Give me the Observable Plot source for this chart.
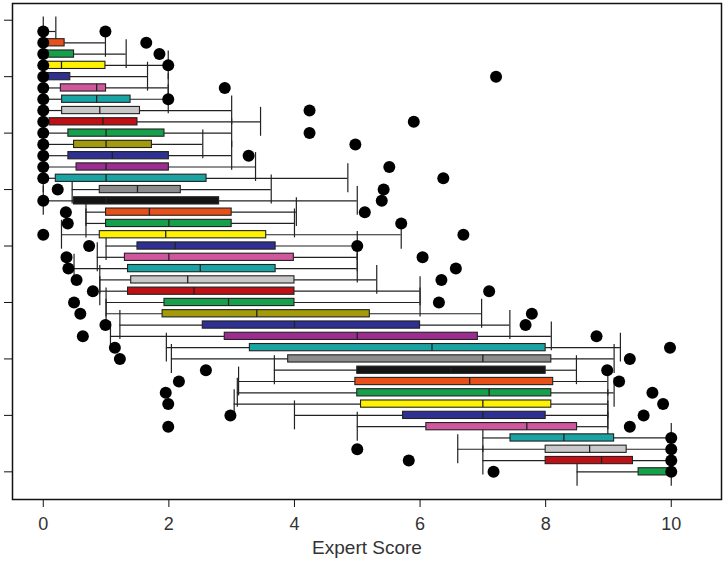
<!DOCTYPE html>
<html>
<head>
<meta charset="utf-8">
<script src="https://cdn.jsdelivr.net/npm/d3@7"></script>
<script src="https://cdn.jsdelivr.net/npm/@observablehq/plot@0.6"></script>
<style>
  html, body { margin: 0; padding: 0; background: #fff; }
  #chart svg { display: block; }
</style>
</head>
<body>
<div id="chart"></div>
<script>
// Row order: top (0) to bottom (39)
const lowerWhisker = [0,0,0,0,0,0,0,0,0,0, 0,0,0,0,0.46,0,0.68,0.68,0.29,1.0, 0.86,0.49,0.9,0.9,1.0,1.0,1.22,1.07,1.96,2.04, 3.68,3.11,3.09,3.04,4.0,5.0,7.0,6.6,7.0,8.5];
const q1 = [0,0,0,0,0,0.28,0.3,0.3,0.1,0.4, 0.49,0.4,0.53,0.2,0.9,0.49,1.0,1.0,0.9,1.5, 1.3,1.35,1.4,1.35,1.93,1.9,2.54,2.89,3.29,3.9, 5.0,4.97,5.0,5.06,5.73,6.1,7.44,8.0,8.0,9.48];
const median = [0,0,0,0.29,0,0.85,0.85,0.9,0.95,1.0, 1.0,1.1,1.0,1.0,1.5,1.0,1.69,2.0,1.95,2.1, 2.0,2.5,2.3,2.4,2.95,3.4,4.0,5.0,6.19,7.0, 6.49,6.79,7.1,7.0,7.0,7.7,8.29,8.7,8.89,10];
const q3 = [0,0.34,0.49,0.99,0.43,1.0,1.39,1.54,1.5,1.93, 1.73,2.0,2.0,2.6,2.19,2.8,3.0,3.0,3.55,3.7, 3.99,3.7,4.0,4.0,4.0,5.2,6.0,6.92,8.0,8.09, 8.0,8.12,8.09,8.09,8.0,8.5,9.09,9.29,9.39,10];
const upperWhisker = [0.2,0.99,1.32,1.99,1.66,1.99,1.99,3.0,3.46,3.0, 2.54,3.0,3.38,4.85,3.63,5.0,4.03,4.0,5.7,5.0, 5.0,5.0,5.31,6.0,6.0,6.98,7.43,8.09,9.19,9.09, 8.49,8.99,9.09,8.99,8.99,8.99,10,10,10,10];
const lowDot = [0,0,0,0,0,0,0,0,0,0, 0,0,0,0,0.23,0,0.36,0.39,0,0.73, 0.37,0.4,0.53,0.79,0.49,0.59,0.99,0.63,1.14,1.22, 2.59,2.16,1.95,1.99,2.98,1.99,null,5.0,5.82,7.17];
const highDot = [0.99,1.64,1.85,1.99,7.21,2.89,1.99,4.24,5.9,4.24, 4.97,3.27,5.51,6.37,5.42,5.39,5.12,5.7,6.69,5.0, 6.04,6.57,6.34,7.1,6.3,7.78,7.68,8.81,9.98,9.34, 8.98,9.17,9.7,9.87,9.56,9.34,10,10,10,10];
const palette = ["#141414","#e8501a","#17a04b","#fff200","#2e3192","#d0579e","#1aa3a3","#c8c8c8","#bf1016","#17a04b","#a39b0a","#2e3192","#9c2c8f","#1aa3a3","#8c8c8c"];
const xTicks = [0, 2, 4, 6, 8, 10];
const yTicks = [-1, 4, 9, 14, 19, 24, 29, 34, 39];
const xLabel = "Expert Score";

const rows = lowerWhisker.map((lo, i) => ({
  i, lo, q1: q1[i], med: median[i], q3: q3[i], hi: upperWhisker[i],
  color: palette[i % palette.length]
}));
const dots = [];
rows.forEach((r, i) => {
  if (lowDot[i] != null) dots.push({i, v: lowDot[i]});
  if (highDot[i] != null) dots.push({i, v: highDot[i]});
});

const boxHalf = 0.32;
const stapleHalf = 1.28;

const chart = Plot.plot({
  width: 724,
  height: 565,
  marginLeft: 12,
  marginRight: 3,
  marginTop: 3,
  marginBottom: 66,
  style: {fontFamily: "'Liberation Sans', Arial, Helvetica, sans-serif", color: "#333", background: "#fff"},
  x: {domain: [-0.49, 10.8]},
  y: {domain: [41.45, -2.48]},
  marks: [
    // whiskers
    Plot.ruleY(rows, {y: "i", x1: "lo", x2: "q1", stroke: "#222", strokeWidth: 1.2}),
    Plot.ruleY(rows, {y: "i", x1: "q3", x2: "hi", stroke: "#222", strokeWidth: 1.2}),
    // staples
    Plot.ruleX(rows, {x: "lo", y1: d => d.i - stapleHalf, y2: d => d.i + stapleHalf, stroke: "#222", strokeWidth: 1.2}),
    Plot.ruleX(rows, {x: "hi", y1: d => d.i - stapleHalf, y2: d => d.i + stapleHalf, stroke: "#222", strokeWidth: 1.2}),
    // boxes
    Plot.rect(rows, {x1: "q1", x2: "q3", y1: d => d.i - boxHalf, y2: d => d.i + boxHalf, fill: "color", stroke: "#222", strokeWidth: 1.1}),
    // medians
    Plot.ruleX(rows, {x: "med", y1: d => d.i - boxHalf, y2: d => d.i + boxHalf, stroke: "#222", strokeWidth: 1.3}),
    // points
    Plot.dot(dots, {x: "v", y: "i", r: 6, fill: "#000", stroke: "none"}),
    // frame & axes
    Plot.frame({stroke: "#111", strokeWidth: 1.5}),
    Plot.axisX({ticks: xTicks, tickSize: 8, tickPadding: 10, fontSize: 18, label: null, stroke: "#111", fill: "#333"}),
    Plot.axisY({ticks: yTicks, tickSize: 8, tickFormat: () => "", label: null, stroke: "#111"}),
    Plot.text([xLabel], {frameAnchor: "bottom", dy: 54, fontSize: 19, fill: "#333"})
  ]
});
document.getElementById("chart").appendChild(chart);
</script>
</body>
</html>
